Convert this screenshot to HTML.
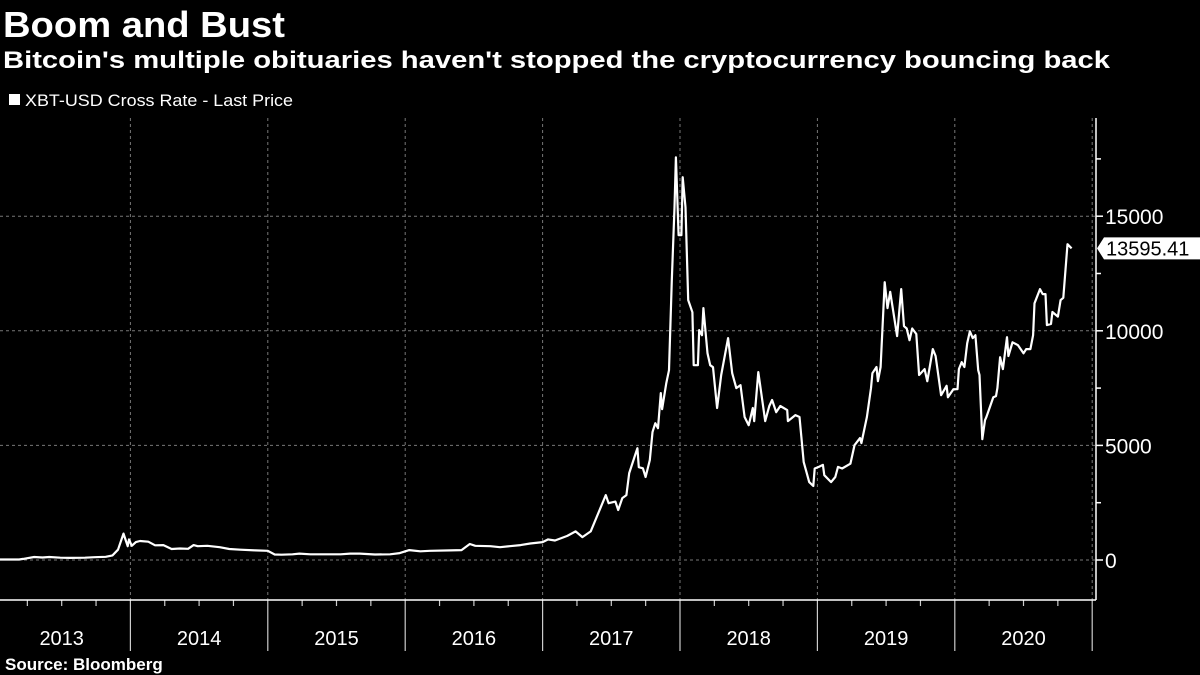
<!DOCTYPE html>
<html><head><meta charset="utf-8"><style>
html,body{margin:0;padding:0;background:#000;}
svg{display:block;font-family:"Liberation Sans","DejaVu Sans",sans-serif;}
</style></head><body>
<svg id="chart" width="1200" height="675" viewBox="0 0 1200 675" xmlns="http://www.w3.org/2000/svg">
<rect width="1200" height="675" fill="#000"/>
<text x="3" y="37" fill="#fff" font-size="36" font-weight="bold" textLength="282" lengthAdjust="spacingAndGlyphs">Boom and Bust</text>
<text x="3" y="68" fill="#fff" font-size="24" font-weight="bold" textLength="1107" lengthAdjust="spacingAndGlyphs">Bitcoin's multiple obituaries haven't stopped the cryptocurrency bouncing back</text>
<g>
<rect x="9" y="94" width="11" height="11" fill="#fff"/>
<text x="25" y="106" fill="#fff" font-size="17" textLength="268" lengthAdjust="spacingAndGlyphs">XBT-USD Cross Rate - Last Price</text>
</g>
<g id="grid"></g>
<g id="axes"></g>
<path id="line" fill="none" stroke="#fff" stroke-width="2.2" stroke-linejoin="round"/>
<g>
<path id="lastbox" fill="#fff"/>
<text id="lasttext" x="1106" y="257" fill="#000" font-size="20">13595.41</text>
</g>
<text x="5" y="670" fill="#fff" font-size="17" font-weight="bold">Source: Bloomberg</text>
</svg>
<script>
const dates=[2013.05,2013.19,2013.22,2013.30,2013.36,2013.41,2013.49,2013.56,2013.67,2013.74,2013.82,2013.87,2013.91,2013.95,2013.98,2013.99,2014.01,2014.04,2014.07,2014.13,2014.18,2014.24,2014.30,2014.36,2014.42,2014.46,2014.49,2014.56,2014.65,2014.72,2014.80,2014.91,2015.00,2015.05,2015.10,2015.18,2015.23,2015.31,2015.53,2015.60,2015.67,2015.78,2015.89,2015.96,2016.03,2016.11,2016.18,2016.33,2016.41,2016.47,2016.51,2016.62,2016.69,2016.76,2016.84,2016.91,2017.00,2017.04,2017.09,2017.18,2017.24,2017.29,2017.35,2017.46,2017.48,2017.53,2017.55,2017.58,2017.61,2017.63,2017.69,2017.70,2017.73,2017.75,2017.78,2017.80,2017.82,2017.84,2017.86,2017.87,2017.90,2017.92,2017.94,2017.96,2017.97,2017.99,2018.01,2018.02,2018.04,2018.06,2018.09,2018.10,2018.13,2018.14,2018.16,2018.17,2018.20,2018.22,2018.24,2018.27,2018.30,2018.35,2018.38,2018.41,2018.44,2018.47,2018.50,2018.53,2018.54,2018.57,2018.62,2018.65,2018.67,2018.70,2018.73,2018.78,2018.785,2018.84,2018.87,2018.90,2018.92,2018.94,2018.97,2018.98,2019.01,2019.04,2019.05,2019.10,2019.13,2019.15,2019.18,2019.24,2019.27,2019.31,2019.32,2019.36,2019.39,2019.40,2019.43,2019.44,2019.46,2019.49,2019.51,2019.53,2019.58,2019.61,2019.63,2019.65,2019.67,2019.69,2019.72,2019.74,2019.78,2019.80,2019.84,2019.86,2019.90,2019.94,2019.95,2019.99,2020.02,2020.03,2020.05,2020.07,2020.09,2020.11,2020.13,2020.15,2020.17,2020.18,2020.20,2020.22,2020.23,2020.28,2020.30,2020.31,2020.33,2020.35,2020.38,2020.39,2020.42,2020.46,2020.50,2020.52,2020.55,2020.57,2020.58,2020.62,2020.64,2020.66,2020.67,2020.70,2020.71,2020.75,2020.77,2020.79,2020.82,2020.85];
const prices=[20,20,50,130,110,130,100,90,100,120,140,200,450,1150,600,900,620,780,830,800,640,650,480,500,490,650,600,620,560,480,450,420,400,240,230,250,280,250,250,280,280,240,250,300,430,380,400,420,430,700,620,600,560,600,650,720,780,900,850,1050,1250,1000,1250,2830,2480,2550,2180,2700,2830,3790,4880,4050,4000,3620,4360,5580,5970,5750,7280,6580,7720,8280,12200,15390,17570,14170,14170,16700,15390,11340,10810,8500,8500,10030,9810,10990,9020,8500,8410,6630,8070,9680,8150,7500,7630,6240,5880,6630,6060,8200,6060,6720,6980,6450,6720,6540,6060,6320,6240,4270,3850,3400,3230,3990,4060,4150,3700,3400,3620,4060,3990,4200,5010,5320,5100,6240,7500,8150,8420,7800,8420,12120,10990,11700,9770,11820,10200,10100,9590,10100,9860,8070,8330,7800,9200,8900,7190,7600,7100,7450,7450,8330,8630,8420,9460,9980,9680,9810,8280,8070,5270,6100,6240,7100,7150,7500,8850,8330,9720,8900,9500,9370,9020,9200,9200,9810,11200,11820,11600,11600,10250,10300,10820,10620,11340,11440,13780,13595.41];
const yTicks=[0,5000,10000,15000];
const yMinor=[2500,7500,12500,17500];
const years=[2013,2014,2015,2016,2017,2018,2019,2020];

const NS='http://www.w3.org/2000/svg';
const x=t=>-7+(t-2013)*137.4;
const y=v=>560-v*114.6/5000;
const AX=1096, TOP=118, BOT=600;
function mk(tag,attrs,parent){const e=document.createElementNS(NS,tag);for(const k in attrs)e.setAttribute(k,attrs[k]);parent.appendChild(e);return e;}
const grid=document.getElementById('grid'), axes=document.getElementById('axes');
yTicks.forEach(v=>{
  const g=mk('line',{x1:0,x2:AX,y1:y(v),y2:y(v),stroke:'#777','stroke-dasharray':'3,3','stroke-width':1},grid);
  
  
  mk('line',{x1:AX,x2:AX+7,y1:y(v),y2:y(v),stroke:'#fff','stroke-width':1.5},axes);
  const t=mk('text',{x:AX+9,y:y(v)+8,fill:'#fff','font-size':21},axes);
  t.textContent=v;
  
  
});
yMinor.forEach(v=>{mk('line',{x1:AX,x2:AX+5,y1:y(v),y2:y(v),stroke:'#fff','stroke-width':1.5},axes);});
for(let yr=2014;yr<=2021;yr++){
  const gx=x(yr);
  const g=mk('line',{x1:gx,x2:gx,y1:TOP,y2:BOT,stroke:'#777','stroke-dasharray':'3,3','stroke-width':1},grid);
  
  
  mk('line',{x1:gx,x2:gx,y1:BOT,y2:651,stroke:'#ccc','stroke-width':1.2},axes);
}
years.forEach(yr=>{
  for(let q=1;q<4;q++){const qx=x(yr+q/4);mk('line',{x1:qx,x2:qx,y1:BOT,y2:606,stroke:'#ccc','stroke-width':1.2},axes);}
  const t=mk('text',{x:x(yr+0.5),y:645,fill:'#fff','font-size':20,'text-anchor':'middle'},axes);
  t.textContent=yr;
  
  
});
const xa=mk('line',{x1:0,x2:AX,y1:BOT,y2:BOT,stroke:'#fff','stroke-width':1.5},axes);


const ya=mk('line',{x1:AX,x2:AX,y1:TOP,y2:BOT,stroke:'#fff','stroke-width':1.5},axes);


document.getElementById('line').setAttribute('d',dates.map((d,i)=>(i?'L':'M')+x(d).toFixed(1)+','+y(prices[i]).toFixed(1)).join(''));
const last=prices[prices.length-1], ly=y(last);
document.getElementById('lastbox').setAttribute('d',`M1097,${ly}L1104,${ly-11}H1200V${ly+11}H1104Z`);
document.getElementById('lasttext').setAttribute('y',ly+7);
document.getElementById('lasttext').textContent=last.toFixed(2);
</script>
</body></html>
